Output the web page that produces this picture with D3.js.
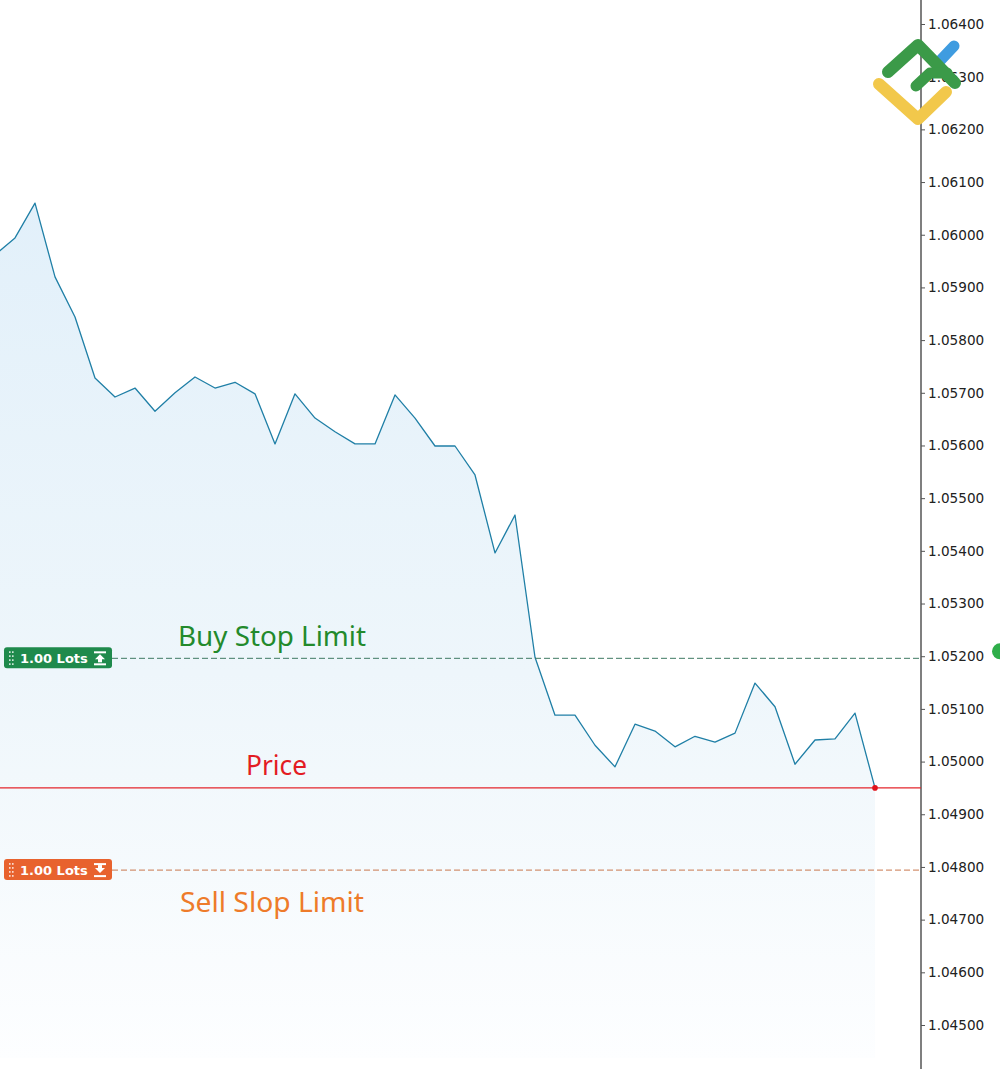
<!DOCTYPE html>
<html>
<head>
<meta charset="utf-8">
<script src="https://cdn.jsdelivr.net/npm/d3@7"></script>
<style>
  html, body { margin: 0; padding: 0; background: #ffffff; }
  svg { display: block; }
</style>
</head>
<body>
<svg id="chart" width="1000" height="1069"></svg>
<script>
// ---- data ----
const prices = [
  1.05962, 1.05994, 1.06060, 1.05920, 1.05844, 1.05728, 1.05692, 1.05709, 1.05665,
  1.05700, 1.05730, 1.05709, 1.05720, 1.05698, 1.05603, 1.05698, 1.05652, 1.05626,
  1.05603, 1.05603, 1.05696, 1.05652, 1.05599, 1.05599, 1.05544, 1.05396, 1.05468,
  1.05198, 1.05088, 1.05088, 1.05031, 1.04990, 1.05071, 1.05058, 1.05028, 1.05048,
  1.05037, 1.05054, 1.05149, 1.05104, 1.04995, 1.05041, 1.05043, 1.05092, 1.04950
];
const tickValues = [1.045, 1.046, 1.047, 1.048, 1.049, 1.050, 1.051, 1.052, 1.053, 1.054,
  1.055, 1.056, 1.057, 1.058, 1.059, 1.060, 1.061, 1.062, 1.063, 1.064];
const currentPrice = 1.04950;
const buyStopLimit = 1.05196;
const sellStopLimit = 1.04794;
const lotLabel = "1.00 Lots";
const lineLabels = { buy: "Buy Stop Limit", price: "Price", sell: "Sell Slop Limit" };

// ---- scales ----
const svg = d3.select("#chart");
const axisX = 921;
const y = d3.scaleLinear().domain([1.045, 1.064]).range([1025, 24]);
const x = d3.scaleLinear().domain([0, prices.length - 1]).range([-5, 875]);

// ---- gradient ----
const defs = svg.append("defs");
const grad = defs.append("linearGradient").attr("id", "areaGrad")
  .attr("gradientUnits", "userSpaceOnUse")
  .attr("x1", 0).attr("y1", 200).attr("x2", 0).attr("y2", 1060);
grad.append("stop").attr("offset", 0).attr("stop-color", "#e2f0fa");
grad.append("stop").attr("offset", 0.55).attr("stop-color", "#eef6fb");
grad.append("stop").attr("offset", 1).attr("stop-color", "#fdfeff");

const bottomY = 1058;
const area = d3.area().x((d, i) => x(i)).y0(bottomY).y1(d => y(d));
svg.append("path").datum(prices).attr("d", area).attr("fill", "url(#areaGrad)");

const line = d3.line().x((d, i) => x(i)).y(d => y(d));
svg.append("path").datum(prices).attr("d", line)
  .attr("fill", "none").attr("stroke", "#1f7fa6").attr("stroke-width", 1.3)
  .attr("stroke-linejoin", "round");

// ---- axis ----
svg.append("line").attr("x1", axisX).attr("x2", axisX).attr("y1", 0).attr("y2", 1069)
  .attr("stroke", "#555").attr("stroke-width", 1.5);
const axis = d3.axisRight(y).tickValues(tickValues).tickFormat(d3.format(".5f"))
  .tickSize(4).tickPadding(3);
const gAxis = svg.append("g").attr("transform", `translate(${axisX},0)`).call(axis);
gAxis.select(".domain").remove();
gAxis.selectAll(".tick line").attr("stroke", "#555");
gAxis.selectAll(".tick text").attr("fill", "#222")
  .style("font-family", "'DejaVu Sans', sans-serif").style("font-size", "13.6px");

// ---- horizontal levels ----
svg.append("line").attr("x1", 112).attr("x2", axisX).attr("y1", y(buyStopLimit)).attr("y2", y(buyStopLimit))
  .attr("stroke", "#3f7a62").attr("stroke-width", 1).attr("stroke-dasharray", "6,3");
svg.append("line").attr("x1", 112).attr("x2", axisX).attr("y1", y(sellStopLimit)).attr("y2", y(sellStopLimit))
  .attr("stroke", "#c9774e").attr("stroke-width", 1).attr("stroke-dasharray", "6,3");
svg.append("line").attr("x1", 0).attr("x2", axisX).attr("y1", y(currentPrice)).attr("y2", y(currentPrice))
  .attr("stroke", "#e4262c").attr("stroke-width", 1.2);
svg.append("circle").attr("cx", x(prices.length - 1)).attr("cy", y(currentPrice)).attr("r", 2.8)
  .attr("fill", "#e0131b");

// green marker at right edge
svg.append("circle").attr("cx", 1000).attr("cy", y(buyStopLimit) - 7).attr("r", 8).attr("fill", "#2fae4a");

// ---- badges ----
function badge(level, color, up) {
  const cy = y(level);
  const g = svg.append("g");
  g.append("rect").attr("x", 4).attr("y", cy - 11).attr("width", 108).attr("height", 21)
    .attr("rx", 3).attr("fill", color);
  for (let r = 0; r < 4; r++) {
    for (let c = 0; c < 2; c++) {
      g.append("rect").attr("x", 9 + c * 3).attr("y", cy - 7 + r * 4).attr("width", 1.6).attr("height", 1.6)
        .attr("fill", "#ffffff").attr("opacity", 0.85);
    }
  }
  g.append("text").attr("x", 20).attr("y", cy + 5).text(lotLabel)
    .attr("fill", "#ffffff").style("font-family", "'DejaVu Sans', sans-serif")
    .style("font-size", "13px").style("font-weight", "bold");
  const ix = 100, top = cy - 7, bot = cy + 6;
  if (up) {
    g.append("rect").attr("x", ix - 6).attr("y", top).attr("width", 12).attr("height", 2).attr("fill", "#fff");
    g.append("path").attr("d", `M${ix - 5},${top + 8} L${ix},${top + 3} L${ix + 5},${top + 8} Z`).attr("fill", "#fff");
    g.append("rect").attr("x", ix - 2).attr("y", top + 7).attr("width", 4).attr("height", 4).attr("fill", "#fff");
    g.append("rect").attr("x", ix - 6).attr("y", bot - 1).attr("width", 12).attr("height", 2).attr("fill", "#fff");
  } else {
    g.append("rect").attr("x", ix - 6).attr("y", top).attr("width", 12).attr("height", 2).attr("fill", "#fff");
    g.append("rect").attr("x", ix - 2).attr("y", top + 2).attr("width", 4).attr("height", 4).attr("fill", "#fff");
    g.append("path").attr("d", `M${ix - 5},${top + 5} L${ix},${top + 10} L${ix + 5},${top + 5} Z`).attr("fill", "#fff");
    g.append("rect").attr("x", ix - 6).attr("y", bot - 1).attr("width", 12).attr("height", 2).attr("fill", "#fff");
  }
}
badge(buyStopLimit, "#1f8a4c", true);
badge(sellStopLimit, "#e8622e", false);

// ---- labels ----
const labelFont = "'Noto Sans', 'Open Sans', sans-serif";
svg.append("text").attr("x", 178).attr("y", y(buyStopLimit) - 12).text(lineLabels.buy)
  .attr("fill", "#238a2c").style("font-family", labelFont).style("font-size", "27px")
  .attr("textLength", 188).attr("lengthAdjust", "spacingAndGlyphs");
svg.append("text").attr("x", 246).attr("y", y(currentPrice) - 13).text(lineLabels.price)
  .attr("fill", "#e31b23").style("font-family", labelFont).style("font-size", "27px")
  .attr("textLength", 61).attr("lengthAdjust", "spacingAndGlyphs");
svg.append("text").attr("x", 180).attr("y", y(sellStopLimit) + 42).text(lineLabels.sell)
  .attr("fill", "#ee7b2a").style("font-family", labelFont).style("font-size", "27px")
  .attr("textLength", 184).attr("lengthAdjust", "spacingAndGlyphs");

// ---- logo ----
const logo = svg.append("g").attr("fill", "none").attr("stroke-linecap", "round").attr("stroke-linejoin", "round");
logo.append("path").attr("d", "M879,84 L918,119 L946,92").attr("stroke", "#f2c84b").attr("stroke-width", 12);
logo.append("path").attr("d", "M937,64 L954,46").attr("stroke", "#3f9ce0").attr("stroke-width", 11);
logo.append("path").attr("d", "M888,72 L918,45 L955,83").attr("stroke", "#3b9a48").attr("stroke-width", 12);
logo.append("path").attr("d", "M916,86 L930,73 L947,73").attr("stroke", "#3b9a48").attr("stroke-width", 11);
</script>
</body>
</html>
